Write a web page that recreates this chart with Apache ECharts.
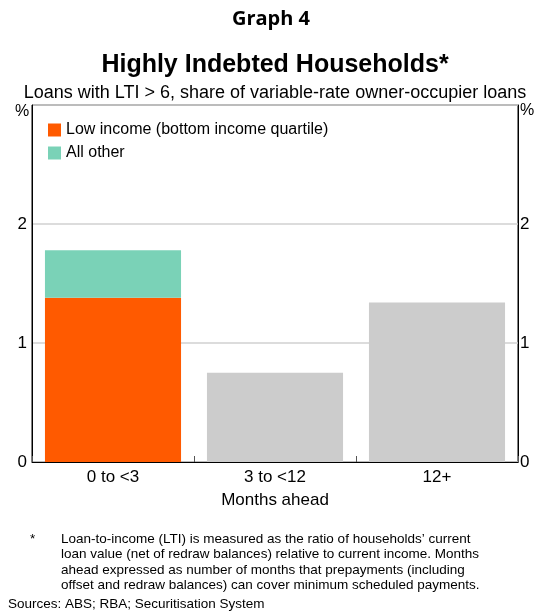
<!DOCTYPE html>
<html><head><meta charset="utf-8">
<script src="https://cdn.jsdelivr.net/npm/echarts@6/dist/echarts.min.js"></script>
<style>html,body{margin:0;padding:0;background:#fff}#c{width:538px;height:615px}</style>
</head><body><div id="c"></div>
<script>
const categories = ['0 to <3', '3 to <12', '12+'];
const lowIncome = [1.38, '-', '-'];
const allOther = [0.40, '-', '-'];
const allHouseholds = ['-', 0.75, 1.34];
const yTicks = [0, 1, 2, 3];

const F = '"Liberation Sans", Arial, sans-serif';
const chart = echarts.init(document.getElementById('c'), null, {renderer: 'canvas'});
const yAxisBase = {
  type: 'value', min: yTicks[0], max: yTicks[yTicks.length - 1], interval: 1,
  axisLine: {show: true, lineStyle: {color: '#000', width: 1}},
  axisTick: {show: false},
  axisLabel: {color: '#000', fontSize: 17, fontFamily: F, formatter: v => v === 3 ? '' : String(v)},
};
chart.setOption({
  animation: false,
  backgroundColor: '#fff',
  legend: {
    show: true, orient: 'vertical', left: 48, top: 122, padding: 0, itemWidth: 13, itemHeight: 13, itemGap: 7,
    icon: 'rect', data: ['Low income (bottom income quartile)', 'All other'],
    textStyle: {fontFamily: F, fontSize: 16, color: '#000'}
  },
  grid: {left: 32, right: 20, top: 105, bottom: 153, show: true, borderColor: '#000', borderWidth: 1, containLabel: false},
  xAxis: {
    type: 'category', data: categories,
    name: 'Months ahead', nameLocation: 'middle', nameGap: 30,
    nameTextStyle: {fontFamily: F, fontSize: 17, color: '#000'},
    axisLine: {show: true, lineStyle: {color: '#000', width: 1}},
    axisTick: {show: true, inside: true, length: 6, lineStyle: {color: '#555'}},
    axisLabel: {color: '#000', fontSize: 17, fontFamily: F, margin: 7}
  },
  yAxis: [
    Object.assign({}, yAxisBase, {position: 'left', axisLabel: Object.assign({}, yAxisBase.axisLabel, {margin: 5}),
      splitLine: {show: true, lineStyle: {color: '#d0d0d0', width: 1.5}}}),
    Object.assign({}, yAxisBase, {position: 'right', splitLine: {show: false}, axisLabel: Object.assign({}, yAxisBase.axisLabel, {margin: 2})})
  ],
  series: [
    {name: 'Low income (bottom income quartile)', type: 'bar', stack: 's', data: lowIncome, itemStyle: {color: '#FF5A00'}, barCategoryGap: '16%'},
    {name: 'All other', type: 'bar', stack: 's', data: allOther, itemStyle: {color: '#7AD2B7'}},
    {name: 'All', type: 'bar', stack: 's', data: allHouseholds, itemStyle: {color: '#CCCCCC'}}
  ],
  graphic: [
    {type: 'text', x: 271, y: 9, style: {text: 'Graph 4', font: 'bold 20px "Open Sans", sans-serif', fill: '#000', textAlign: 'center'}},
    {type: 'text', x: 275, y: 53, style: {text: 'Highly Indebted Households*', font: 'bold 25px ' + F, fill: '#000', textAlign: 'center'}},
    {type: 'text', x: 275, y: 84, style: {text: 'Loans with LTI > 6, share of variable-rate owner-occupier loans', font: '18px ' + F, fill: '#000', textAlign: 'center'}},
    {type: 'text', left: 15, top: 104, style: {text: '%', font: '16px ' + F, fill: '#000'}},
    {type: 'text', left: 520, top: 103, style: {text: '%', font: '16px ' + F, fill: '#000'}},
    {type: 'text', left: 30, top: 532, style: {text: '*', font: '13.5px ' + F, fill: '#000'}},
    {type: 'text', left: 61, top: 531, style: {text: 'Loan-to-income (LTI) is measured as the ratio of households\u2019 current\nloan value (net of redraw balances) relative to current income. Months\nahead expressed as number of months that prepayments (including\noffset and redraw balances) can cover minimum scheduled payments.', font: '13.5px ' + F, fill: '#000', lineHeight: 15.6}},
    {type: 'text', left: 8, top: 597, style: {text: 'Sources: ABS; RBA; Securitisation System', font: '13.5px ' + F, fill: '#000'}}
  ]
});
</script></body></html>
